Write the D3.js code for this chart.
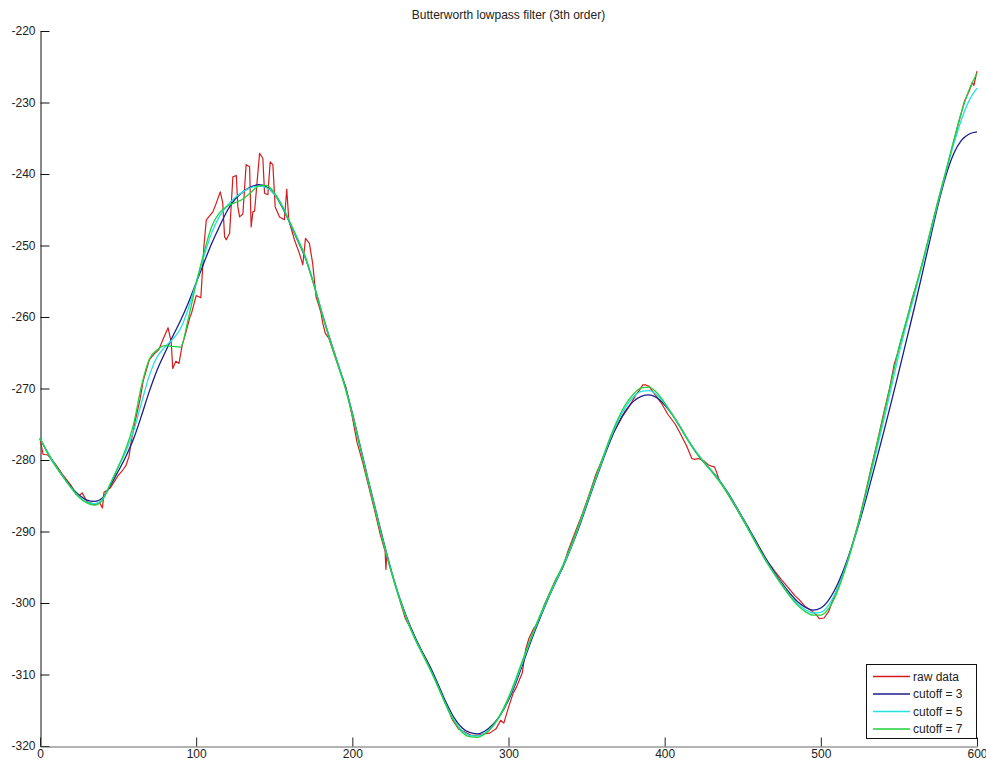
<!DOCTYPE html>
<html><head><meta charset="utf-8">
<script src="https://cdn.jsdelivr.net/npm/d3@7"></script>
<style>
body{margin:0;background:#fff}
svg{display:block}
text{font-family:"Liberation Sans",Arial,Helvetica,sans-serif;fill:#222}
</style>
</head><body>
<svg id="chart" width="986" height="762"></svg>
<script>
const titleText = "Butterworth lowpass filter (3th order)";
const xTicks = [0, 100, 200, 300, 400, 500, 600];
const yTicks = [-220, -230, -240, -250, -260, -270, -280, -290, -300, -310, -320];
const seriesNames = ["raw data", "cutoff = 3", "cutoff = 5", "cutoff = 7"];
const seriesColors = ["#d41c1c", "#1c1c8e", "#22e2e2", "#1ed23c"];

// sample positions for the filtered series
const filtX = [0,5,10,15,20,25,30,35,40,45,50,55,60,65,70,75,80,85,90,95,
 100,105,110,115,120,125,130,135,140,145,150,155,160,165,170,175,180,185,190,195,
 200,205,210,215,220,225,230,235,240,245,250,255,260,265,270,275,280,285,290,295,
 300,305,310,315,320,325,330,335,340,345,350,355,360,365,370,375,380,385,390,395,
 400,405,410,415,420,425,430,435,440,445,450,455,460,465,470,475,480,485,490,495,
 500,505,510,515,520,525,530,535,540,545,550,555,560,565,570,575,580,585,590,595,600];

const cutoff3 = [-277.0,-279.0,-280.8,-282.4,-283.8,-284.9,-285.6,-285.8,-285.3,-283.6,
 -281.6,-279.5,-277.0,-273.8,-270.4,-267.4,-265.0,-262.7,-260.5,-258.0,
 -255.2,-252.4,-249.7,-247.3,-245.1,-243.5,-242.5,-241.8,-241.5,-241.8,
 -242.8,-244.6,-246.9,-249.3,-251.8,-255.2,-259.0,-262.6,-266.0,-269.4,
 -273.4,-278.0,-282.6,-287.0,-291.4,-295.5,-299.1,-302.1,-304.7,-306.9,
 -309.0,-311.4,-313.9,-316.0,-317.4,-318.1,-318.3,-317.9,-317.0,-315.6,
 -313.6,-311.0,-308.0,-305.0,-302.2,-299.6,-297.2,-294.9,-292.3,-289.5,
 -286.4,-283.3,-280.3,-277.4,-275.0,-273.1,-271.8,-271.1,-270.9,-271.3,
 -272.3,-273.7,-275.4,-277.2,-278.9,-280.3,-281.5,-282.8,-284.4,-286.2,
 -288.1,-290.0,-292.0,-293.9,-295.6,-297.2,-298.6,-299.8,-300.6,-301.0,
 -300.7,-299.6,-297.7,-295.1,-292.0,-288.5,-284.6,-280.5,-276.3,-272.0,
 -267.6,-263.1,-258.6,-253.9,-249.1,-244.4,-240.3,-237.2,-235.3,-234.4,-234.1];

const cutoff5 = [-277.0,-279.0,-280.8,-282.4,-283.9,-285.1,-285.9,-286.1,-285.5,-283.3,
 -281.0,-278.8,-275.9,-272.0,-268.2,-265.6,-264.2,-263.1,-261.6,-258.8,
 -255.2,-251.5,-248.2,-245.9,-244.4,-243.3,-242.5,-241.9,-241.7,-241.9,
 -242.8,-244.5,-246.8,-249.2,-251.7,-255.2,-259.0,-262.7,-266.1,-269.5,
 -273.6,-278.2,-282.8,-287.2,-291.6,-295.6,-299.2,-302.3,-304.9,-307.1,
 -309.3,-311.7,-314.2,-316.3,-317.8,-318.5,-318.6,-318.2,-317.2,-315.6,
 -313.4,-310.7,-307.7,-304.7,-302.0,-299.5,-297.1,-294.8,-292.2,-289.3,
 -286.2,-283.1,-280.1,-277.1,-274.6,-272.6,-271.2,-270.4,-270.3,-270.9,
 -272.1,-273.7,-275.4,-277.2,-278.8,-280.2,-281.5,-282.9,-284.5,-286.3,
 -288.2,-290.2,-292.2,-294.1,-295.8,-297.4,-298.9,-300.1,-300.9,-301.4,
 -301.3,-300.3,-298.3,-295.5,-292.1,-288.2,-283.8,-279.3,-274.7,-270.0,
 -265.2,-260.9,-256.9,-252.7,-248.4,-244.0,-239.8,-235.9,-232.4,-229.7,-228.0];

const cutoff7 = [-277.0,-279.1,-280.9,-282.4,-283.9,-285.2,-286.0,-286.3,-285.6,-283.4,
 -281.0,-278.4,-274.9,-269.6,-265.9,-264.6,-264.0,-264.1,-264.2,-260.2,
 -255.3,-251.0,-247.3,-245.4,-244.5,-244.0,-243.5,-242.6,-241.7,-241.6,
 -242.6,-244.4,-246.7,-249.1,-251.6,-255.2,-259.1,-262.8,-266.2,-269.6,
 -273.7,-278.3,-282.9,-287.3,-291.7,-295.7,-299.3,-302.4,-305.0,-307.2,
 -309.4,-311.8,-314.3,-316.5,-318.0,-318.7,-318.8,-318.3,-317.2,-315.5,
 -313.2,-310.4,-307.4,-304.5,-301.8,-299.3,-296.9,-294.6,-292.0,-289.1,
 -286.0,-282.9,-279.9,-276.9,-274.3,-272.2,-270.8,-269.9,-269.8,-270.6,
 -272.0,-273.7,-275.4,-277.3,-278.9,-280.3,-281.6,-283.0,-284.6,-286.4,
 -288.3,-290.3,-292.3,-294.2,-295.9,-297.5,-299.0,-300.3,-301.2,-301.7,
 -301.7,-300.8,-298.7,-295.7,-292.1,-288.0,-283.4,-278.7,-274.0,-269.2,
 -264.3,-260.3,-256.4,-252.4,-248.1,-243.8,-239.6,-235.4,-231.4,-228.2,-225.9];

// raw data (sample positions and values)
const rawX = [0,2,5,7,10,15,20,23,25,27,30,35,38,40,41,45,50,53,55,57,
 58.6,61,64,66,70,73,76,79,82,84,85,87,89,91,93,96,97,100,103,105,
 106.5,110.7,113,115.4,117,118.2,119.3,121.4,123.5,125.7,126.7,127.8,129.9,132,134.2,135.2,136.3,137.4,140.6,142.7,
 143.8,145.9,147.4,149.1,150.6,153.4,156.5,158,159.3,162.9,166.1,168.3,170,172.5,174.6,176.8,178,180,181,182.7,
 185,188.5,192,196,200,203,206.6,210,214,218,221,221.5,222,225,230,234,238.5,242,247,251,
 255.6,260,264,268,272.6,276,280,284,288,292,295,297,300,303,305,308.8,311,313,316,319.5,
 323,327,330,334.4,338,342,347.2,352,356,362.1,367,372.7,377,381.3,384,386,388,390,392,395,
 398.3,402,406.8,410,414,417.4,419,421.7,425,428,432,433.4,435,440,445.2,450,454,458,462,466,
 470.7,475,479,483.5,486,490,494,497,499,502,505,508,512,516.5,520,524,528,532,536,540,
 544,547,549.5,552,555,558,562,566.6,570,575,580,584,588,592,595,597,598,600];

const rawY = [-277.0,-279.2,-279.3,-279.8,-280.6,-282.2,-283.6,-284.8,-285.0,-284.6,-285.8,-286.2,-285.9,-286.7,-284.5,-283.9,-282.2,-281.4,-280.8,-279.5,
 -277.2,-274.5,-271.6,-269.0,-266.0,-265.2,-264.6,-263.0,-261.5,-263.5,-267.2,-266.2,-266.5,-264.0,-262.5,-260.0,-259.5,-257.0,-257.3,-250.0,
 -246.4,-245.3,-244.0,-242.5,-244.0,-248.8,-249.2,-248.3,-240.4,-240.2,-244.6,-246.0,-245.6,-238.7,-239.0,-247.4,-245.3,-245.2,-237.1,-237.8,
 -242.7,-242.9,-238.3,-238.7,-244.6,-246.0,-246.4,-242.1,-246.4,-249.2,-251.1,-252.7,-249.0,-249.7,-252.5,-257.2,-258.0,-259.5,-260.8,-262.3,
 -263.0,-265.3,-267.5,-269.9,-274.0,-277.5,-280.3,-283.3,-286.8,-290.5,-292.8,-295.3,-293.3,-295.6,-299.3,-302.2,-304.0,-305.8,-307.8,-309.6,
 -312.0,-314.2,-316.3,-317.6,-318.1,-318.5,-318.5,-318.3,-318.2,-317.6,-316.4,-316.8,-314.6,-312.6,-311.8,-309.8,-306.5,-305.0,-303.6,-302.5,
 -300.2,-298.3,-296.8,-295.2,-292.8,-290.5,-287.6,-284.6,-282.0,-278.8,-276.3,-274.0,-272.6,-271.0,-270.2,-269.5,-269.5,-269.7,-270.3,-271.2,
 -272.2,-273.6,-275.0,-276.3,-278.0,-279.8,-279.9,-279.8,-280.1,-280.7,-281.0,-281.8,-282.9,-284.6,-286.5,-288.3,-289.8,-291.2,-292.7,-294.2,
 -295.6,-296.8,-297.8,-299.0,-299.5,-300.5,-301.1,-301.6,-302.2,-302.1,-301.2,-299.4,-297.2,-294.6,-292.0,-288.8,-285.2,-281.3,-277.6,-273.7,
 -270.0,-266.6,-264.8,-262.8,-260.5,-257.8,-254.9,-251.2,-248.2,-243.8,-239.8,-236.4,-233.0,-229.8,-228.4,-227.2,-227.6,-225.6];

const svg = d3.select("#chart");
const x = d3.scaleLinear().domain([0, 600]).range([40, 977]);
const y = d3.scaleLinear().domain([-320, -220]).range([746, 31]);
const plainFmt = d => String(d);

// title
svg.append("text").attr("x", (40 + 977) / 2).attr("y", 19)
  .attr("text-anchor", "middle").style("font-size", "12px").text(titleText);

// axes
const gy = svg.append("g").attr("transform", "translate(40.5,0)")
  .call(d3.axisLeft(y).tickValues(yTicks).tickFormat(plainFmt)
    .tickSizeInner(-9).tickSizeOuter(0).tickPadding(5));
gy.select(".domain").attr("stroke", "#111");
gy.selectAll(".tick line").attr("stroke", "#111");
gy.selectAll("text").style("font-size", "12px").attr("fill", "#222");

const gx = svg.append("g").attr("transform", "translate(0,746.5)")
  .call(d3.axisBottom(x).tickValues(xTicks).tickFormat(plainFmt)
    .tickSizeInner(-9).tickSizeOuter(0).tickPadding(3));
gx.select(".domain").attr("stroke", "#666");
gx.selectAll(".tick line").attr("stroke", "#222");
gx.selectAll("text").style("font-size", "12px").attr("fill", "#222");

// lines
const rawPts = rawX.map((v, i) => [v, rawY[i]]);
const filt = [cutoff3, cutoff5, cutoff7].map(arr => filtX.map((v, i) => [v, arr[i]]));

const lineRaw = d3.line().x(d => x(d[0])).y(d => y(d[1]));
const lineSmooth = d3.line().x(d => x(d[0])).y(d => y(d[1])).curve(d3.curveMonotoneX);

svg.append("path").datum(rawPts).attr("d", lineRaw)
  .attr("fill", "none").attr("stroke", seriesColors[0]).attr("stroke-width", 1.2)
  .attr("stroke-linejoin", "round");
filt.forEach((pts, i) => {
  svg.append("path").datum(pts).attr("d", lineSmooth)
    .attr("fill", "none").attr("stroke", seriesColors[i + 1]).attr("stroke-width", 1.3);
});

// legend
const lg = svg.append("g");
lg.append("rect").attr("x", 866.5).attr("y", 664.5).attr("width", 110).attr("height", 74)
  .attr("fill", "#fff").attr("stroke", "#111");
seriesNames.forEach((name, i) => {
  const yy = 676.5 + i * 17.5;
  lg.append("line").attr("x1", 873).attr("x2", 910).attr("y1", yy).attr("y2", yy)
    .attr("stroke", seriesColors[i]).attr("stroke-width", 1.3);
  lg.append("text").attr("x", 913).attr("y", yy).attr("dy", "0.35em")
    .style("font-size", "12px").text(name);
});
</script>
</body></html>
